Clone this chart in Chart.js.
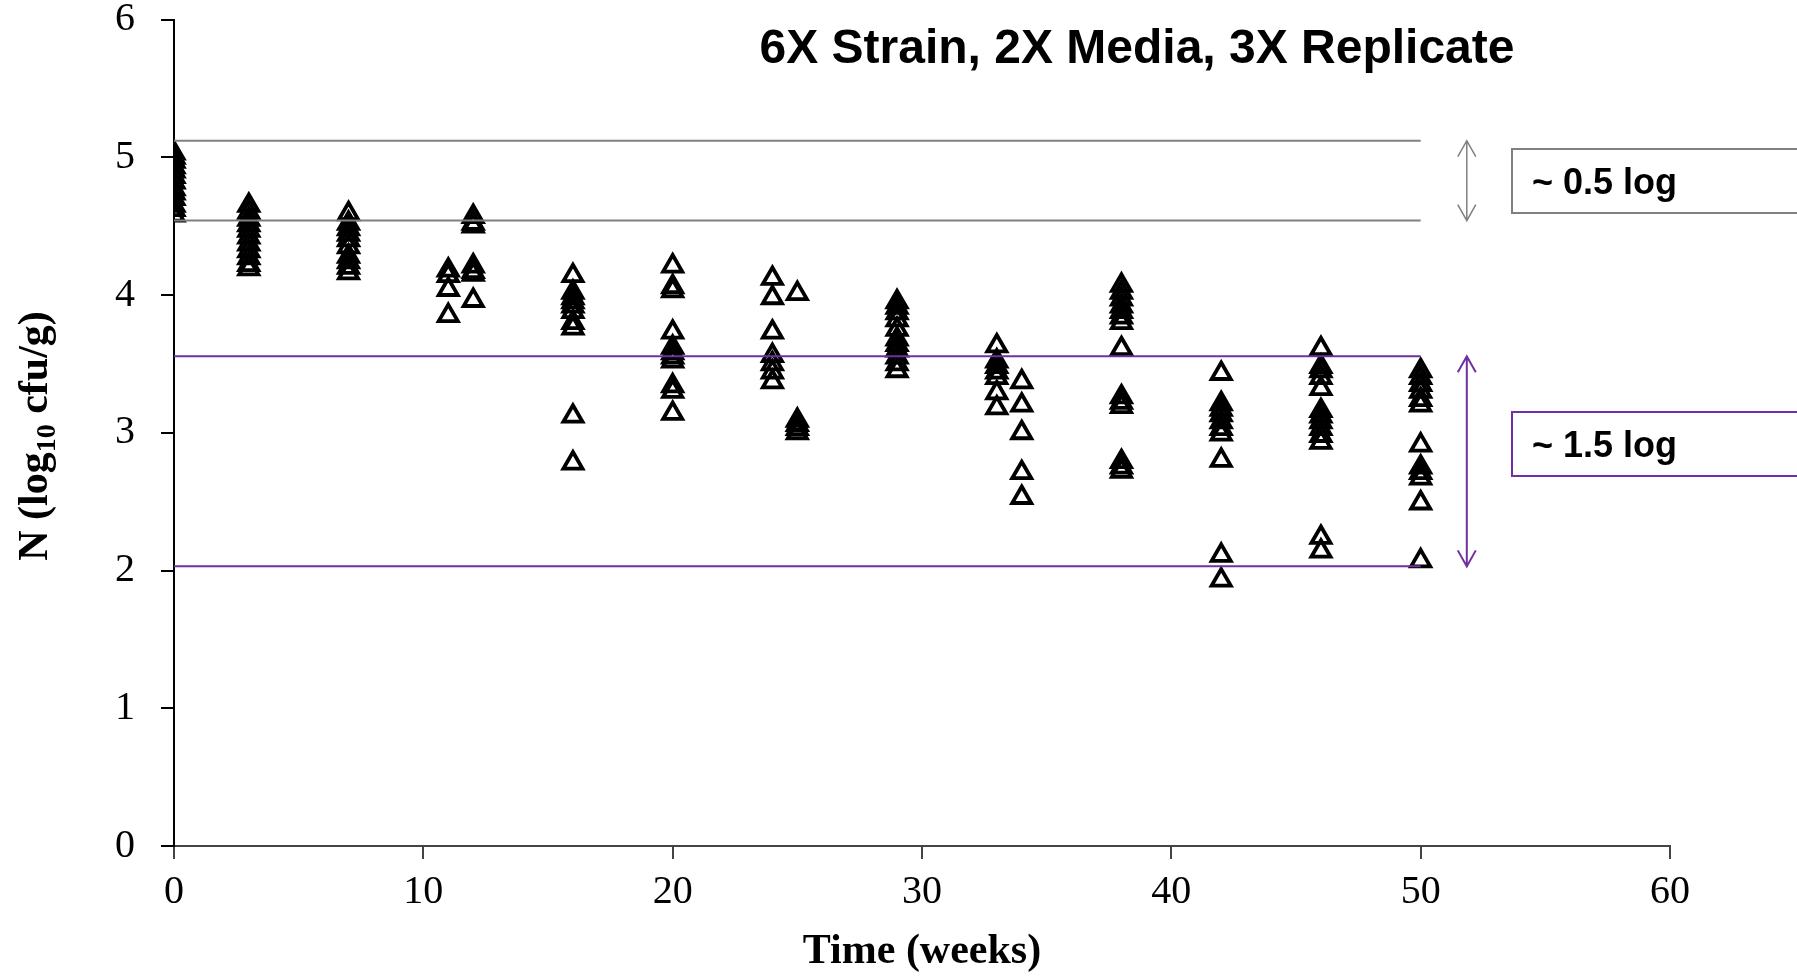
<!DOCTYPE html>
<html lang="en">
<head>
    <meta charset="UTF-8">
    <title>Survival over time</title>
    <style>
        html, body { margin: 0; padding: 0; background: #fff; }
        #wrap { position: relative; width: 1797px; height: 980px; }
    </style>
</head>
<body>
    <div id="wrap"><canvas id="survivalChart"></canvas></div>
    <script src="https://cdn.jsdelivr.net/npm/chart.js"></script>
    <script>

        // sampling times (weeks) and the log counts read at each one
        const weeks = [0, 3, 7, 11, 12, 16, 20, 24, 25, 29, 33, 34, 38, 42, 46, 50]

        const week0 = [5.03, 5.00, 4.97, 4.93, 4.90, 4.86, 4.82, 4.77, 4.74, 4.70, 4.65, 4.62, 4.58]
        const week3 = [4.65, 4.60, 4.55, 4.51, 4.47, 4.42, 4.37, 4.32, 4.27, 4.22, 4.19]
        const week7 = [4.59, 4.52, 4.48, 4.44, 4.40, 4.35, 4.28, 4.24, 4.20, 4.16]
        const week11 = [4.18, 4.14, 4.04, 3.85]
        const week12 = [4.57, 4.52, 4.50, 4.21, 4.17, 4.15, 3.96]
        const week16 = [4.14, 4.02, 3.98, 3.95, 3.92, 3.88, 3.80, 3.76, 3.12, 2.78]
        const week20 = [4.21, 4.06, 4.03, 3.73, 3.62, 3.58, 3.55, 3.52, 3.34, 3.30, 3.14]
        const week24 = [4.12, 3.98, 3.73, 3.56, 3.50, 3.44, 3.37]
        const week25 = [4.01, 3.09, 3.06, 3.03, 3.00]
        const week29 = [3.95, 3.91, 3.87, 3.82, 3.75, 3.68, 3.64, 3.60, 3.55, 3.50, 3.45]
        const week33 = [3.63, 3.52, 3.48, 3.44, 3.40, 3.29, 3.18]
        const week34 = [3.37, 3.20, 3.00, 2.71, 2.53]
        const week38 = [4.07, 4.02, 3.97, 3.92, 3.88, 3.84, 3.80, 3.61, 3.26, 3.22, 3.19, 2.79, 2.75, 2.72]
        const week42 = [3.43, 3.21, 3.17, 3.13, 3.08, 3.03, 2.99, 2.80, 2.11, 1.93]
        const week46 = [3.61, 3.48, 3.45, 3.40, 3.32, 3.16, 3.12, 3.08, 3.03, 2.98, 2.93, 2.24, 2.14]
        const week50 = [3.45, 3.40, 3.35, 3.30, 3.24, 3.20, 2.91, 2.75, 2.71, 2.67, 2.49, 2.07]

        const readings = [week0, week3, week7, week11, week12, week16, week20, week24,
            week25, week29, week33, week34, week38, week42, week46, week50]

        // reference bands
        const narrowBand = [5.12, 4.54]
        const wideBand = [3.555, 2.03]
        const bandEnd = 50
        const arrowWeek = 51.85

        const chartTitle = "6X Strain, 2X Media, 3X Replicate"
        const narrowLabel = "~ 0.5 log"
        const wideLabel = "~ 1.5 log"
        const xTitle = "Time (weeks)"

        const GREY = '#808080'
        const PURPLE = '#7030A0'

        let points = []
        weeks.forEach((w, i) => {
            readings[i].forEach(v => points.push({ x: w, y: v }))
        })

        function bandLine(level, color) {
            return {
                type: 'line',
                data: [{ x: 0, y: level }, { x: bandEnd, y: level }],
                borderColor: color,
                borderWidth: 2,
                pointRadius: 0,
                fill: false,
                order: 0
            }
        }

        function drawArrow(ctx, x, yTop, yBot, color, width) {
            ctx.save()
            ctx.strokeStyle = color
            ctx.lineWidth = width
            ctx.beginPath()
            ctx.moveTo(x, yTop)
            ctx.lineTo(x, yBot)
            ctx.moveTo(x - 9, yTop + 16)
            ctx.lineTo(x, yTop)
            ctx.lineTo(x + 9, yTop + 16)
            ctx.moveTo(x - 9, yBot - 16)
            ctx.lineTo(x, yBot)
            ctx.lineTo(x + 9, yBot - 16)
            ctx.stroke()
            ctx.restore()
        }

        function drawBox(ctx, top, bottom, color, text) {
            ctx.save()
            ctx.strokeStyle = color
            ctx.lineWidth = 2
            ctx.strokeRect(1512, top, 400, bottom - top)
            ctx.fillStyle = '#000'
            ctx.font = 'bold 36px "Liberation Sans", Arial, sans-serif'
            ctx.textBaseline = 'alphabetic'
            ctx.fillText(text, 1532, top + 45)
            ctx.restore()
        }

        const extras = {
            id: 'extras',
            afterDraw(chart) {
                const ctx = chart.ctx
                const xs = chart.scales.x
                const ys = chart.scales.y

                // title
                ctx.save()
                ctx.fillStyle = '#000'
                ctx.font = 'bold 48px "Liberation Sans", Arial, sans-serif'
                ctx.textAlign = 'center'
                ctx.fillText(chartTitle, 1137, 63)
                ctx.restore()

                // y axis title with subscript
                ctx.save()
                ctx.fillStyle = '#000'
                ctx.translate(47, 436)
                ctx.rotate(-Math.PI / 2)
                const big = 'bold 42px "Liberation Serif", "Times New Roman", serif'
                const small = 'bold 28px "Liberation Serif", "Times New Roman", serif'
                const parts = [["N (log", big, 0], ["10", small, 8], [" cfu/g)", big, 0]]
                let total = 0
                parts.forEach(p => { ctx.font = p[1]; total += ctx.measureText(p[0]).width })
                let px = -total / 2
                parts.forEach(p => {
                    ctx.font = p[1]
                    ctx.fillText(p[0], px, p[2])
                    px += ctx.measureText(p[0]).width
                })
                ctx.restore()

                // arrows and boxes
                const ax = xs.getPixelForValue(arrowWeek)
                drawArrow(ctx, ax, ys.getPixelForValue(narrowBand[0]), ys.getPixelForValue(narrowBand[1]), GREY, 1.5)
                drawArrow(ctx, ax, ys.getPixelForValue(wideBand[0]), ys.getPixelForValue(wideBand[1]), PURPLE, 2)
                drawBox(ctx, 149, 213, GREY, narrowLabel)
                drawBox(ctx, 412, 476, PURPLE, wideLabel)
            }
        }

        const ctxEl = document.getElementById('survivalChart')

        new Chart(ctxEl, {
            type: 'scatter',
            data: {
                datasets: [
                    bandLine(narrowBand[0], GREY),
                    bandLine(narrowBand[1], GREY),
                    bandLine(wideBand[0], PURPLE),
                    bandLine(wideBand[1], PURPLE),
                    {
                        label: 'N',
                        data: points,
                        pointStyle: 'triangle',
                        pointRadius: 11,
                        borderWidth: 3.8,
                        borderColor: '#000',
                        backgroundColor: 'rgba(255,255,255,0)',
                        order: 1
                    }
                ]
            },
            options: {
                responsive: true,
                maintainAspectRatio: false,
                animation: false,
                layout: { padding: { left: 8, right: 127, top: 19.5, bottom: 0 } },
                plugins: {
                    legend: { display: false },
                    tooltip: { enabled: false },
                    title: { display: false }
                },
                scales: {
                    x: {
                        type: 'linear',
                        min: 0,
                        max: 60,
                        ticks: {
                            stepSize: 10,
                            color: '#000',
                            padding: 9,
                            font: { family: '"Liberation Serif", "Times New Roman", serif', size: 40 }
                        },
                        grid: { drawOnChartArea: false, drawTicks: true, tickLength: 13, color: '#444', lineWidth: 2 },
                        border: { color: '#444', width: 2 },
                        title: {
                            display: true,
                            text: xTitle,
                            color: '#000',
                            padding: { top: 0, bottom: 3 },
                            font: { family: '"Liberation Serif", "Times New Roman", serif', size: 42, weight: 'bold' }
                        },
                        afterFit(scale) {
                            scale.height = 134
                            scale.paddingLeft = 0
                            scale.paddingRight = 0
                        }
                    },
                    y: {
                        type: 'linear',
                        min: 0,
                        max: 6,
                        ticks: {
                            stepSize: 1,
                            color: '#000',
                            padding: 26,
                            font: { family: '"Liberation Serif", "Times New Roman", serif', size: 40 }
                        },
                        grid: { drawOnChartArea: false, drawTicks: true, tickLength: 13, color: '#000', lineWidth: 2 },
                        border: { color: '#000', width: 2 },
                        afterFit(scale) {
                            scale.width = 166
                            scale.paddingTop = 0
                            scale.paddingBottom = 0
                        }
                    }
                }
            },
            plugins: [extras]
        })

    </script>
</body>
</html>
